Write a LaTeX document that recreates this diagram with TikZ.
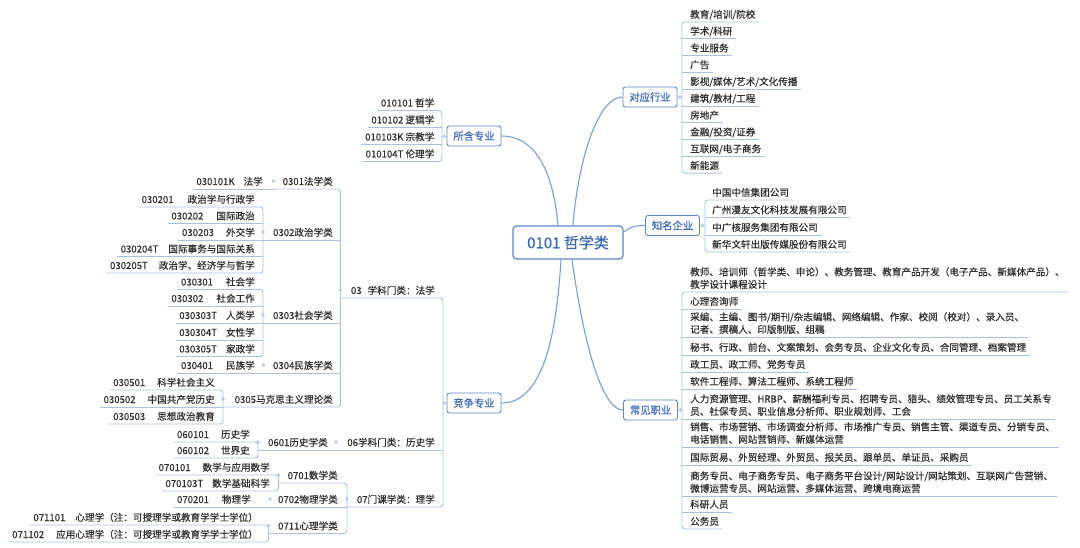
\documentclass[tikz,border=0pt]{standalone}
\usepackage{fontspec}
\setmainfont{Noto Sans CJK SC}[FakeBold=0.35]
\usetikzlibrary{calc}
\definecolor{boxblue}{HTML}{3A68B2}
\definecolor{boxline}{HTML}{5B86C8}
\definecolor{branchc}{HTML}{7A9DD3}
\definecolor{linec}{HTML}{A9C1E5}
\definecolor{leaft}{HTML}{2E2E2E}
\definecolor{dotc}{HTML}{B9CAE4}
\newcommand\twolines[2]{\begin{tabular}[b]{@{}l@{}}#1\\#2\end{tabular}}
\newcommand\brk[5]{\draw[conn] (#1) -- (#5 |- #2.south) -- (#5 |- #4.south) -- (#3);}
\newcommand\stl[3]{\draw[conn] (#1) -- (#3 |- #2.south);}
\newcommand\dotmark[1]{\fill[dotc] (#1) circle (1.8pt);}
\begin{document}
\begin{tikzpicture}[x=1pt,y=-1pt,
  leafL/.style={anchor=south east, inner xsep=3.5pt, inner ysep=1.8pt, text height=8pt, text depth=2pt, font=\fontsize{9.6}{12.5}\selectfont, text=leaft},
  leafR/.style={leafL, anchor=south west},
  multiR/.style={anchor=south west, inner xsep=3.5pt, inner ysep=1.8pt, text depth=2pt, font=\fontsize{9.6}{12.5}\selectfont, text=leaft},
  topbox/.style={draw=boxline, line width=0.9pt, rounded corners=2.5pt, fill=white, text=boxblue, font=\fontsize{10.3}{12}\selectfont, minimum width=54pt, minimum height=20pt, inner sep=1pt},
  rootbox/.style={topbox, minimum width=110pt, minimum height=33pt, font=\fontsize{15}{18}\selectfont, line width=1.2pt, rounded corners=3.5pt},
  conn/.style={draw=linec, line width=0.9pt, rounded corners=3pt},
  branch/.style={draw=branchc, line width=1.1pt}]
\useasboundingbox[fill=white] (0,0) rectangle (1080,548);

% ---------- root and main branches ----------
\node[rootbox] (root) at (568,242.5) {0101 哲学类};
\node[topbox] (so) at (474,136) {所含专业};
\node[topbox] (jz) at (474,403) {竞争专业};
\node[topbox] (dy) at (650,97) {对应行业};
\node[topbox] (zm) at (672.5,225.5) {知名企业};
\node[topbox] (cj) at (650.5,410) {常见职业};

\draw[branch] ($(root.north)+(-10,0)$) .. controls (553,170) and (535,136) .. (so.east);
\draw[branch] ($(root.north)+(5,0)$) .. controls (578,160) and (598,97) .. (dy.west);
\draw[branch] ($(root.east)+(0,-10.5)$) .. controls (633,226) .. (zm.west);
\draw[branch] ($(root.south)+(-7,0)$) .. controls (555,360) and (535,403) .. (jz.east);
\draw[branch] ($(root.south)+(4,0)$) .. controls (586,360) and (605,410) .. (cj.west);

% ---------- vertical line positions ----------
\coordinate (so-v) at (442,136);
\coordinate (jz-v) at (443,403);
\coordinate (dy-v) at (682,97.5);
\coordinate (zm-v) at (705,226);
\coordinate (cj-v) at (682,410.5);
\coordinate (n03-v) at (340.5,298);
\coordinate (n06-v) at (336,450);
\coordinate (n07-v) at (347,507);
\coordinate (n0301-v) at (273.5,189);
\coordinate (n0302-v) at (263,240);
\coordinate (n0303-v) at (263,323);
\coordinate (n0304-v) at (263.5,373);
\coordinate (n0305-v) at (223,407);
\coordinate (n0601-v) at (258,450);
\coordinate (n0701-v) at (278.5,483);
\coordinate (n0702-v) at (270,507);
\coordinate (n0711-v) at (268.5,533.5);

% ---------- 所含专业 ----------
\node[leafL] (s1) at (438,110.5) {010101 哲学};
\node[leafL] (s2) at (438,127.5) {010102 逻辑学};
\node[leafL] (s3) at (438,144.5) {010103K 宗教学};
\node[leafL] (s4) at (438,161.5) {010104T 伦理学};
\draw[conn] (so.west) -- (so-v);
\brk{s1.south west}{s1}{s4.south west}{s4}{so-v}
\stl{s2.south west}{s2}{so-v}
\stl{s3.south west}{s3}{so-v}
\dotmark{$(so.west)+(-2.5,0)$}

% ---------- 竞争专业 ----------
\node[leafL] (n03) at (438.5,298) {03\hspace{6pt}学科门类：法学};
\node[leafL] (n06) at (438.5,450) {06学科门类：历史学};
\node[leafL] (n07) at (438.5,507) {07门课学类：理学};
\draw[conn] (jz.west) -- (jz-v);
\brk{n03-v}{n03}{n07-v}{n07}{jz-v}
\stl{n06-v}{n06}{jz-v}
\dotmark{$(jz.west)+(-2.5,0)$}

\node[leafL] (n0301) at (336.5,189) {0301法学类};
\node[leafL] (n0302) at (336.5,240) {0302政治学类};
\node[leafL] (n0303) at (336.5,323) {0303社会学类};
\node[leafL] (n0304) at (336.5,373) {0304民族学类};
\node[leafL] (n0305) at (336.5,407) {0305马克思主义理论类};
\brk{n0301-v}{n0301}{n0305-v}{n0305}{n03-v}
\stl{n0302-v}{n0302}{n03-v}
\stl{n0303-v}{n0303}{n03-v}
\stl{n0304-v}{n0304}{n03-v}

\node[leafL] (l030101) at (266.5,189) {030101K\hspace{9pt}法学};
\stl{l030101.south west}{l030101}{n0301-v}

\node[leafL] (l030201) at (258.5,207) {030201\hspace{14pt}政治学与行政学};
\node[leafL] (l030202) at (258.5,223.5) {030202\hspace{13pt}国际政治};
\node[leafL] (l030203) at (258.5,240) {030203\hspace{12pt}外交学};
\node[leafL] (l030204) at (258.5,256.5) {030204T\hspace{10pt}国际事务与国际关系};
\node[leafL] (l030205) at (258.5,273) {030205T\hspace{11pt}政治学、经济学与哲学};
\brk{l030201.south west}{l030201}{l030205.south west}{l030205}{n0302-v}
\stl{l030202.south west}{l030202}{n0302-v}
\stl{l030203.south west}{l030203}{n0302-v}
\stl{l030204.south west}{l030204}{n0302-v}

\node[leafL] (l030301) at (258.5,289.5) {030301\hspace{13pt}社会学};
\node[leafL] (l030302) at (258.5,306) {030302\hspace{13pt}社会工作};
\node[leafL] (l030303) at (258.5,323) {030303T\hspace{9pt}人类学};
\node[leafL] (l030304) at (258.5,340) {030304T\hspace{9pt}女性学};
\node[leafL] (l030305) at (258.5,356.5) {030305T\hspace{9pt}家政学};
\brk{l030301.south west}{l030301}{l030305.south west}{l030305}{n0303-v}
\stl{l030302.south west}{l030302}{n0303-v}
\stl{l030303.south west}{l030303}{n0303-v}
\stl{l030304.south west}{l030304}{n0303-v}

\node[leafL] (l030401) at (258.5,373) {030401\hspace{13pt}民族学};
\stl{l030401.south west}{l030401}{n0304-v}

\node[leafL] (l030501) at (218.5,390) {030501\hspace{12pt}科学社会主义};
\node[leafL] (l030502) at (218.5,407) {030502\hspace{12pt}中国共产党历史};
\node[leafL] (l030503) at (218.5,424) {030503\hspace{12pt}思想政治教育};
\brk{l030501.south west}{l030501}{l030503.south west}{l030503}{n0305-v}
\stl{l030502.south west}{l030502}{n0305-v}

\node[leafL] (n0601) at (331.5,450) {0601历史学类};
\stl{n0601-v}{n0601}{n06-v}
\node[leafL] (l060101) at (253.5,442) {060101\hspace{12pt}历史学};
\node[leafL] (l060102) at (253.5,458) {060102\hspace{12pt}世界史};
\brk{l060101.south west}{l060101}{l060102.south west}{l060102}{n0601-v}

\node[leafL] (n0701) at (341.5,483) {0701数学类};
\node[leafL] (n0702) at (341.5,507) {0702物理学类};
\node[leafL] (n0711) at (341.5,533.5) {0711心理学类};
\brk{n0701-v}{n0701}{n0711-v}{n0711}{n07-v}
\stl{n0702-v}{n0702}{n07-v}

\node[leafL] (l070101) at (273.5,475) {070101\hspace{12pt}数学与应用数学};
\node[leafL] (l070103) at (273.5,491) {070103T\hspace{9pt}数学基础科学};
\brk{l070101.south west}{l070101}{l070103.south west}{l070103}{n0701-v}

\node[leafL] (l070201) at (254.5,507) {070201\hspace{13pt}物理学};
\stl{l070201.south west}{l070201}{n0702-v}

\node[leafL] (l071101) at (261.5,525) {071101\hspace{10pt}心理学（注：可授理学或教育学学士学位）};
\node[leafL] (l071102) at (261.5,542) {071102\hspace{12pt}应用心理学（注：可授理学或教育学学士学位）};
\brk{l071101.south west}{l071101}{l071102.south west}{l071102}{n0711-v}

\foreach \p in {n03,n06,n07,n0301,n0302,n0303,n0304,n0305,n0601,n0701,n0702,n0711}{
  \dotmark{$(\p-v)+(0,-8)$}
}

% ---------- 对应行业 ----------
\node[leafR] (d1) at (686.5,22) {教育/培训/院校};
\node[leafR] (d2) at (686.5,38.8) {学术/科研};
\node[leafR] (d3) at (686.5,55.6) {专业服务};
\node[leafR] (d4) at (686.5,72.4) {广告};
\node[leafR] (d5) at (686.5,89.2) {影视/媒体/艺术/文化传播};
\node[leafR] (d6) at (686.5,106) {建筑/教材/工程};
\node[leafR] (d7) at (686.5,122.8) {房地产};
\node[leafR] (d8) at (686.5,139.6) {金融/投资/证券};
\node[leafR] (d9) at (686.5,156.4) {互联网/电子商务};
\node[leafR] (d10) at (686.5,173.2) {新能源};
\draw[conn] (dy.east) -- (dy-v);
\brk{d1.south east}{d1}{d10.south east}{d10}{dy-v}
\foreach \i in {2,...,9}{\stl{d\i.south east}{d\i}{dy-v}}
\dotmark{$(dy.east)+(2.5,0)$}

% ---------- 知名企业 ----------
\node[leafR] (z1) at (708.5,200) {中国中信集团公司};
\node[leafR] (z2) at (708.5,217.5) {广州漫友文化科技发展有限公司};
\node[leafR] (z3) at (708.5,235) {中广核服务集团有限公司};
\node[leafR] (z4) at (708.5,252) {新华文轩出版传媒股份有限公司};
\draw[conn] (zm.east) -- (zm-v);
\brk{z1.south east}{z1}{z4.south east}{z4}{zm-v}
\stl{z2.south east}{z2}{zm-v}
\stl{z3.south east}{z3}{zm-v}
\dotmark{$(zm.east)+(2.5,0)$}

% ---------- 常见职业 ----------
\node[multiR] (c1) at (686.5,292) {\twolines{教师、培训师（哲学类、申论）、教务管理、教育产品开发（电子产品、新媒体产品）、}{教学设计课程设计}};
\node[leafR] (c2) at (686.5,309) {心理咨询师};
\node[multiR] (c3) at (686.5,337) {\twolines{采编、主编、图书/期刊/杂志编辑、网络编辑、作家、校阅（校对）、录入员、}{记者、撰稿人、印版制版、组稿}};
\node[leafR] (c4) at (686.5,355) {秘书、行政、前台、文案策划、会务专员、企业文化专员、合同管理、档案管理};
\node[leafR] (c5) at (686.5,372) {政工员、政工师、党务专员};
\node[leafR] (c6) at (686.5,389) {软件工程师、算法工程师、系统工程师};
\node[multiR] (c7) at (686.5,419) {\twolines{人力资源管理、HRBP、薪酬福利专员、招聘专员、猎头、绩效管理专员、员工关系专}{员、社保专员、职业信息分析师、职业规划师、工会}};
\node[multiR] (c8) at (686.5,447) {\twolines{销售、市场营销、市场调查分析师、市场推广专员、销售主管、渠道专员、分销专员、}{电话销售、网站营销师、新媒体运营}};
\node[leafR] (c9) at (686.5,465) {国际贸易、外贸经理、外贸员、报关员、跟单员、单证员、采购员};
\node[multiR] (c10) at (686.5,496) {\twolines{商务专员、电子商务专员、电子商务平台设计/网站设计/网站策划、互联网广告营销、}{微博运营专员、网站运营、多媒体运营、跨境电商运营}};
\node[leafR] (c11) at (686.5,512) {科研人员};
\node[leafR] (c12) at (686.5,529) {公务员};
\draw[conn] (cj.east) -- (cj-v);
\brk{c1.south east}{c1}{c12.south east}{c12}{cj-v}
\foreach \i in {2,...,11}{\stl{c\i.south east}{c\i}{cj-v}}
\dotmark{$(cj.east)+(2.5,0)$}
\end{tikzpicture}
\end{document}
